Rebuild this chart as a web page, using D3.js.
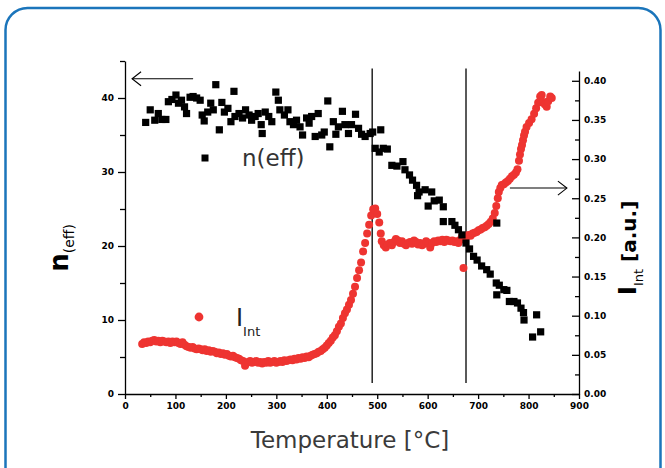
<!DOCTYPE html>
<html>
<head>
<meta charset="utf-8">
<script src="https://cdn.jsdelivr.net/npm/d3@7"></script>
<style>
  body { margin: 0; background: #fff; }
  .tick text { font-family: "DejaVu Sans", sans-serif; font-weight: bold; font-size: 9px; }
</style>
</head>
<body>
<svg id="chart" width="665" height="468"></svg>
<script>
// ---- data ----
const xTicks = [0, 100, 200, 300, 400, 500, 600, 700, 800, 900];
const xMinor = [50, 150, 250, 350, 450, 550, 650, 750, 850];
const nTicks = [0, 10, 20, 30, 40];
const nMinor = [5, 15, 25, 35, 45];
const iTicks = [0, 0.05, 0.1, 0.15, 0.2, 0.25, 0.3, 0.35, 0.4];
const iMinor = [0.025, 0.075, 0.125, 0.175, 0.225, 0.275, 0.325, 0.375];

// n(eff) : temperature, value
const nTemp = [41, 50, 59, 66, 73, 81, 86, 93, 101, 106, 112, 118, 122, 129, 135, 142, 149, 153, 157, 164,
  170, 175, 180, 187, 192, 197, 204, 210, 216, 218, 226, 233, 239, 246, 251, 258, 264, 270, 272, 278,
  285, 291, 299, 304, 307, 316, 323, 327, 334, 340, 347, 352, 360, 365, 370, 377, 383, 390, 395, 402,
  406, 413, 418, 423, 431, 436, 443, 449, 457, 463, 469, 476, 486, 491, 496, 504, 507, 512, 520, 529,
  539, 551, 555, 564, 570, 578, 583, 580, 595, 608, 601, 613, 623, 631, 631, 648, 654, 661, 668, 676,
  683, 691, 698, 707, 717, 724, 736, 742, 751, 757, 737, 762, 771, 778, 785, 790, 791, 816, 808, 824, 737];
const nVal = [36.7, 38.4, 37.0, 37.9, 37.1, 37.1, 39.5, 39.8, 40.4, 39.3, 39.7, 38.8, 37.9, 40.1, 40.2, 40.0, 39.7, 37.7, 36.9, 38.1,
  39.3, 38.4, 41.8, 35.7, 39.4, 38.1, 38.6, 36.8, 40.9, 37.5, 37.9, 37.3, 38.4, 37.7, 37.0, 37.5, 37.9, 36.4, 35.2, 38.1,
  37.5, 36.8, 40.8, 39.7, 38.4, 37.7, 38.4, 36.8, 36.4, 37.0, 36.1, 35.0, 37.3, 36.6, 37.5, 34.8, 37.9, 35.0, 35.4, 39.6,
  33.4, 36.8, 35.1, 36.1, 38.2, 36.4, 35.2, 36.4, 37.8, 35.9, 35.1, 34.8, 35.2, 35.4, 33.2, 32.7, 35.7, 33.2, 33.1, 30.9,
  30.8, 31.4, 30.3, 29.6, 28.9, 28.2, 27.3, 26.8, 27.6, 27.3, 25.4, 26.1, 26.2, 25.3, 23.3, 23.3, 22.8, 22.2, 21.5, 20.4,
  19.6, 18.6, 18.1, 17.3, 16.8, 16.2, 15.0, 14.7, 14.1, 14.0, 13.4, 12.5, 12.5, 12.3, 11.6, 11.0, 10.0, 10.7, 7.7, 8.4, 23.1];

// I(Int) : temperature, value
const iTemp = [34, 38, 42, 46, 50, 54, 58, 62, 66, 70, 74, 78, 82, 86, 90, 94, 98, 102, 106, 110,
  114, 118, 122, 126, 130, 134, 138, 142, 146, 150, 154, 158, 162, 166, 170, 174, 178, 182, 186, 190,
  194, 198, 202, 206, 210, 214, 218, 222, 226, 230, 234, 238, 240, 244, 248, 252, 256, 260, 264, 268,
  272, 276, 280, 284, 288, 292, 296, 300, 304, 308, 312, 316, 320, 324, 328, 332, 336, 340, 344, 348,
  352, 356, 360, 364, 368, 372, 376, 380, 384, 388, 392, 396, 400, 404, 408, 412, 416, 420, 424, 428,
  432, 436, 440, 444, 448, 452, 456, 460, 464, 468, 472, 476, 480, 484, 488, 492, 496, 500, 504, 507,
  509, 513, 517, 521, 525, 529, 533, 537, 541, 545, 549, 553, 557, 561, 565, 569, 573, 577, 581, 585,
  589, 593, 597, 601, 605, 609, 613, 617, 621, 625, 629, 633, 637, 641, 645, 649, 653, 657, 661, 665,
  668, 671, 673, 677, 681, 685, 689, 693, 697, 701, 705, 709, 713, 717, 721, 725, 729, 733, 736, 739,
  741, 744, 747, 751, 755, 759, 763, 767, 771, 775, 778, 781, 783, 785, 787, 789, 791, 793, 796, 801,
  806, 811, 815, 819, 823, 826, 829, 832, 836, 839, 843, 846];
const iVal = [0.064, 0.066, 0.065, 0.067, 0.066, 0.068, 0.069, 0.067, 0.068, 0.066, 0.068, 0.067, 0.066, 0.067, 0.065, 0.067, 0.066, 0.067, 0.065, 0.064,
  0.066, 0.063, 0.061, 0.060, 0.059, 0.060, 0.058, 0.057, 0.058, 0.057, 0.056, 0.057, 0.055, 0.056, 0.054, 0.055, 0.054, 0.052, 0.053, 0.051,
  0.052, 0.050, 0.051, 0.049, 0.048, 0.049, 0.047, 0.046, 0.045, 0.043, 0.042, 0.036, 0.039, 0.041, 0.042, 0.040, 0.041, 0.042, 0.040, 0.041,
  0.039, 0.041, 0.040, 0.042, 0.040, 0.041, 0.042, 0.040, 0.041, 0.042, 0.041, 0.043, 0.042, 0.043, 0.044, 0.043, 0.045, 0.044, 0.046, 0.045,
  0.047, 0.046, 0.048, 0.047, 0.049, 0.050, 0.051, 0.052, 0.054, 0.055, 0.057, 0.059, 0.062, 0.065, 0.068, 0.072, 0.075, 0.080, 0.086, 0.090,
  0.097, 0.103, 0.108, 0.114, 0.120, 0.128, 0.137, 0.148, 0.158, 0.168, 0.182, 0.193, 0.205, 0.216, 0.228, 0.236, 0.237, 0.230, 0.219, 0.205,
  0.195, 0.190, 0.187, 0.191, 0.193, 0.190, 0.194, 0.198, 0.196, 0.193, 0.195, 0.192, 0.190, 0.193, 0.194, 0.192, 0.196, 0.194, 0.191, 0.193,
  0.190, 0.192, 0.195, 0.193, 0.187, 0.193, 0.195, 0.194, 0.196, 0.195, 0.197, 0.194, 0.197, 0.196, 0.195, 0.196, 0.194, 0.195, 0.193, 0.197,
  0.201, 0.161, 0.199, 0.201, 0.203, 0.202, 0.205, 0.206, 0.207, 0.209, 0.210, 0.212, 0.213, 0.215, 0.217, 0.220, 0.224, 0.231, 0.240, 0.250,
  0.258, 0.263, 0.267, 0.268, 0.270, 0.272, 0.275, 0.278, 0.280, 0.283, 0.287, 0.298, 0.306, 0.313, 0.318, 0.324, 0.330, 0.335, 0.341, 0.346,
  0.351, 0.358, 0.365, 0.372, 0.380, 0.382, 0.373, 0.370, 0.367, 0.374, 0.380, 0.378];

// vertical marker lines (temperature) and arrow annotations
const markerTemps = [490, 676];
const markerSpan = [1.5, 44];
const leftArrow = { y: 42.6, from: 135, to: 14 };     // points at left axis
const rightArrow = { y: 0.263, from: 763, to: 876 };  // points at right axis

// ---- drawing ----
const svg = d3.select('#chart');
const red = '#ee3431';

svg.append('rect')
  .attr('x', 5.5).attr('y', 8).attr('width', 655).attr('height', 500)
  .attr('rx', 22)
  .attr('fill', 'none').attr('stroke', '#1b75bb').attr('stroke-width', 2.5);

const x = d3.scaleLinear().domain([0, 900]).range([125, 579]);
const yL = d3.scaleLinear().domain([0, 45]).range([394, 61]);
const yR = d3.scaleLinear().domain([0, 0.4125]).range([394, 71]);

// axes
svg.append('g').attr('transform', 'translate(0,394)')
  .call(d3.axisBottom(x).tickValues(xTicks).tickSize(5).tickSizeOuter(0).tickPadding(4));
svg.append('g').attr('transform', 'translate(0,394)')
  .call(d3.axisBottom(x).tickValues(xMinor).tickSize(3).tickFormat(''))
  .select('.domain').remove();

svg.append('g').attr('transform', 'translate(125,0)')
  .call(d3.axisLeft(yL).tickValues(nTicks).tickSize(7).tickSizeOuter(0).tickPadding(4));
svg.append('g').attr('transform', 'translate(125,0)')
  .call(d3.axisLeft(yL).tickValues(nMinor).tickSize(5).tickFormat(''))
  .select('.domain').remove();

svg.append('g').attr('transform', 'translate(579,0)')
  .call(d3.axisRight(yR).tickValues(iTicks).tickSize(-7).tickSizeOuter(0).tickPadding(5)
    .tickFormat(d3.format('.2f')));
svg.append('g').attr('transform', 'translate(579,0)')
  .call(d3.axisRight(yR).tickValues(iMinor).tickSize(-4).tickFormat(''))
  .select('.domain').remove();

svg.selectAll('.domain, .tick line').attr('stroke', '#000').attr('stroke-width', 1.3);

// marker lines
svg.selectAll('line.marker')
  .data(markerTemps)
  .join('line')
  .attr('class', 'marker')
  .attr('x1', d => x(d)).attr('x2', d => x(d))
  .attr('y1', yL(markerSpan[0])).attr('y2', yL(markerSpan[1]))
  .attr('stroke', '#000').attr('stroke-width', 1.3);

// I(Int) points
svg.append('g').selectAll('circle')
  .data(iTemp.map((t, i) => [t, iVal[i]]))
  .join('circle')
  .attr('cx', d => x(d[0]))
  .attr('cy', d => yR(d[1]))
  .attr('r', 4)
  .attr('fill', red);

// n(eff) points
svg.append('g').selectAll('rect')
  .data(nTemp.map((t, i) => [t, nVal[i]]))
  .join('rect')
  .attr('x', d => x(d[0]) - 3.6)
  .attr('y', d => yL(d[1]) - 3.6)
  .attr('width', 7.2).attr('height', 7.2)
  .attr('fill', '#000');

// arrows
function arrow(x1, x2, y) {
  const dir = Math.sign(x2 - x1);
  svg.append('line').attr('x1', x1).attr('x2', x2).attr('y1', y).attr('y2', y)
    .attr('stroke', '#000').attr('stroke-width', 1.1);
  svg.append('path')
    .attr('d', `M${x2 - dir * 9},${y - 7}L${x2},${y}L${x2 - dir * 9},${y + 7}`)
    .attr('fill', 'none').attr('stroke', '#000').attr('stroke-width', 1.1);
}
arrow(x(leftArrow.from), x(leftArrow.to), yL(leftArrow.y));
arrow(x(rightArrow.from), x(rightArrow.to), yR(rightArrow.y));

// legend
svg.append('rect').attr('x', 201.5).attr('y', 154.5).attr('width', 7).attr('height', 7).attr('fill', '#000');
svg.append('text').attr('x', 242).attr('y', 166)
  .attr('font-family', 'DejaVu Sans, sans-serif').attr('font-size', 23).attr('fill', '#333')
  .text('n(eff)');
svg.append('circle').attr('cx', 199).attr('cy', 317).attr('r', 4.4).attr('fill', red);
const li = svg.append('text').attr('x', 236).attr('y', 326)
  .attr('font-family', 'DejaVu Sans, sans-serif').attr('fill', '#222');
li.append('tspan').attr('font-size', 24).text('I');
li.append('tspan').attr('font-size', 13).attr('dy', 10).text('Int');

// axis titles
svg.append('text').attr('x', 350).attr('y', 448).attr('text-anchor', 'middle')
  .attr('font-family', 'DejaVu Sans, sans-serif').attr('font-size', 23).attr('fill', '#3a3a3a')
  .text('Temperature [°C]');

const tl = svg.append('text').attr('transform', 'translate(68,248) rotate(-90)')
  .attr('text-anchor', 'middle').attr('font-family', 'DejaVu Sans, sans-serif').attr('fill', '#000');
tl.append('tspan').attr('font-size', 26).attr('font-weight', 'bold').text('n');
tl.append('tspan').attr('font-size', 14).attr('dy', 6).text('(eff)');

const tr = svg.append('text').attr('transform', 'translate(636,248) rotate(-90)')
  .attr('text-anchor', 'middle').attr('font-family', 'DejaVu Sans, sans-serif').attr('font-weight', 'bold').attr('fill', '#000');
tr.append('tspan').attr('font-size', 25).text('I');
tr.append('tspan').attr('font-size', 13).attr('font-weight', 'normal').attr('dy', 7).text('Int');
tr.append('tspan').attr('font-size', 20).attr('dy', -7).text(' [a.u.]');
</script>
</body>
</html>
